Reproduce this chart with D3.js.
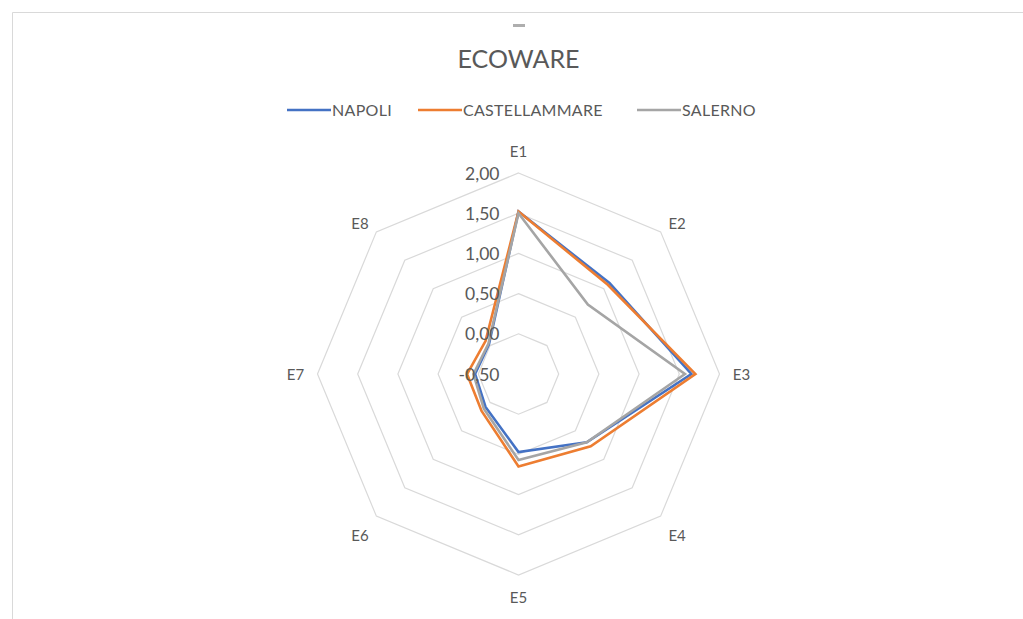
<!DOCTYPE html>
<html>
<head>
<meta charset="utf-8">
<script src="https://cdn.jsdelivr.net/npm/d3@7"></script>
<style>
  body { margin: 0; background: #fff; }
  svg { display: block; font-family: Lato, "Open Sans", sans-serif; }
</style>
</head>
<body>
<svg id="chart" width="1023" height="619"></svg>
<script>
// Radar chart "ECOWARE" - three cities over eight items E1..E8
const categories = ["E1", "E2", "E3", "E4", "E5", "E6", "E7", "E8"];
const seriesNames = ["NAPOLI", "CASTELLAMMARE", "SALERNO"];
const napoli = [1.52, 1.10, 1.65, 0.70, 0.47, 0.08, 0.04, 0.02];
const castellammare = [1.52, 1.07, 1.70, 0.77, 0.65, 0.15, 0.14, 0.08];
const salerno = [1.50, 0.72, 1.57, 0.70, 0.57, 0.11, 0.06, 0.03];
const ticks = [-0.5, 0, 0.5, 1, 1.5, 2];
const colors = ["#4472C4", "#ED7D31", "#A5A5A5"];

const svg = d3.select("#chart");
const cx = 518.5, cy = 374, R = 201;

// chart frame (only top and left edges visible in the picture)
svg.append("line").attr("x1", 12.5).attr("y1", 12.5).attr("x2", 1023).attr("y2", 12.5)
    .attr("stroke", "#d9d9d9");
svg.append("line").attr("x1", 12.5).attr("y1", 12.5).attr("x2", 12.5).attr("y2", 619)
    .attr("stroke", "#d9d9d9");
// little grey mark above the title
svg.append("rect").attr("x", 513).attr("y", 24).attr("width", 12).attr("height", 3)
    .attr("fill", "#8c8c8c").attr("opacity", 0.7);

// title
svg.append("text")
    .attr("x", cx).attr("y", 68)
    .attr("text-anchor", "middle")
    .attr("font-size", 25)
    .attr("fill", "#595959")
    .text("ECOWARE");

// legend
const legendItems = [
    {x: 287, text: seriesNames[0]},
    {x: 418, text: seriesNames[1]},
    {x: 637, text: seriesNames[2]}
];
const legend = svg.append("g");
legendItems.forEach((d, i) => {
    legend.append("line")
        .attr("x1", d.x).attr("x2", d.x + 44)
        .attr("y1", 110).attr("y2", 110)
        .attr("stroke", colors[i]).attr("stroke-width", 2.5);
    legend.append("text")
        .attr("x", d.x + 45).attr("y", 116)
        .attr("font-size", 16)
        .attr("letter-spacing", 0.3)
        .attr("fill", "#595959")
        .text(d.text);
});

const r = d3.scaleLinear().domain([-0.5, 2]).range([0, R]);
const angle = d3.scalePoint().domain(categories).range([0, 2 * Math.PI * 7 / 8]);

const g = svg.append("g").attr("transform", `translate(${cx},${cy})`);

// rings (the centre is -0.50, so no ring for it)
const ringLine = d3.lineRadial()
    .angle(d => angle(d))
    .curve(d3.curveLinearClosed);
ticks.filter(t => t > -0.5).forEach(t => {
    g.append("path")
        .attr("d", ringLine.radius(r(t))(categories))
        .attr("fill", "none")
        .attr("stroke", "#d9d9d9")
        .attr("stroke-width", 1.2);
});

// category labels
categories.forEach(c => {
    const a = angle(c);
    const diag = Math.abs(Math.sin(a)) > 0.2 && Math.abs(Math.cos(a)) > 0.2;
    const lr = R + (diag ? 19 : 22);
    g.append("text")
        .attr("x", lr * Math.sin(a) + (diag ? Math.sign(Math.sin(a)) * 3 : 0))
        .attr("y", -lr * Math.cos(a) + (diag ? 5 : 0))
        .attr("text-anchor", "middle")
        .attr("dominant-baseline", "central")
        .attr("font-size", 15)
        .attr("fill", "#595959")
        .text(c);
});

// series
const seriesData = [napoli, castellammare, salerno];
const seriesLine = d3.lineRadial()
    .angle((d, i) => angle(categories[i]))
    .radius(d => r(d))
    .curve(d3.curveLinearClosed);
seriesData.forEach((vals, i) => {
    g.append("path")
        .attr("d", seriesLine(vals))
        .attr("fill", "none")
        .attr("stroke", colors[i])
        .attr("stroke-width", 2.6)
        .attr("stroke-linejoin", "miter");
});

// value axis tick labels, along the E1 axis
const fmt = v => d3.format(".2f")(v).replace(".", ",").replace("−", "-");
ticks.forEach(t => {
    g.append("text")
        .attr("x", -19)
        .attr("y", -r(t))
        .attr("text-anchor", "end")
        .attr("dominant-baseline", "central")
        .attr("font-size", 17.5)
        .attr("fill", "#595959")
        .text(fmt(t));
});
</script>
</body>
</html>
